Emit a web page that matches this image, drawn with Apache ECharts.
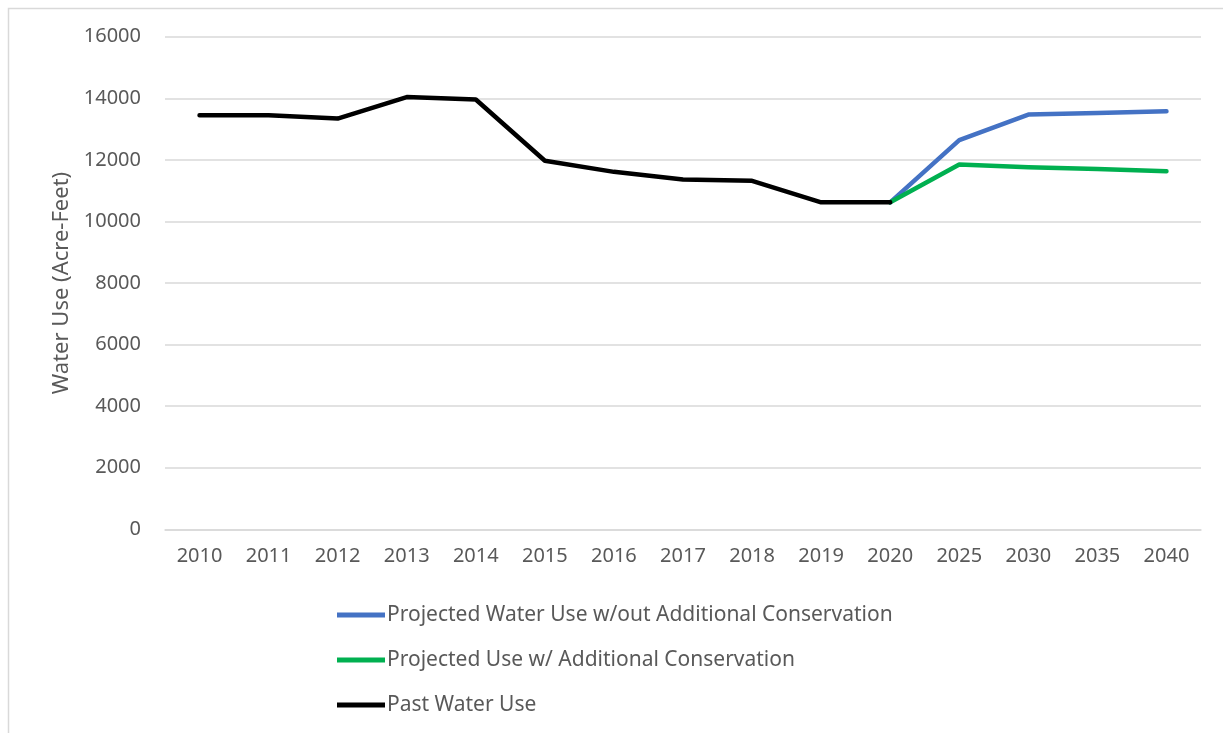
<!DOCTYPE html>
<html>
<head>
<meta charset="utf-8">
<script src="https://cdn.jsdelivr.net/npm/echarts@6/dist/echarts.min.js"></script>
<style>html,body{margin:0;padding:0;background:#fff;}#c{width:1223px;height:733px;}</style>
</head>
<body>
<div id="c"></div>
<script>
const categories = ['2010','2011','2012','2013','2014','2015','2016','2017','2018','2019','2020','2025','2030','2035','2040'];
const projectedNoConservation = [null,null,null,null,null,null,null,null,null,null,10620,12640,13470,13520,13580];
const projectedWithConservation = [null,null,null,null,null,null,null,null,null,null,10620,11850,11760,11700,11630];
const pastWaterUse = [13450,13450,13340,14040,13960,11970,11610,11360,11320,10620,10620,null,null,null,null];
const seriesNames = ['Projected Water Use w/out Additional Conservation','Projected Use w/ Additional Conservation','Past Water Use'];
const yAxisTitle = 'Water Use (Acre-Feet)';

const FONT = 'Noto Sans';
const chart = echarts.init(document.getElementById('c'), null, {renderer:'canvas'});
function lineSeries(name, data, color){
  return {name, type:'line', data, showSymbol:false, symbol:'none', connectNulls:false,
    lineStyle:{color, width:4.5, cap:'round', join:'round'}, itemStyle:{color}, animation:false};
}
chart.setOption({
  animation:false,
  backgroundColor:'#fff',
  graphic:[{type:'rect', shape:{x:8.5,y:8.5,width:1300,height:800}, style:{fill:'none', stroke:'#d9d9d9', lineWidth:1.5}, silent:true}],
  grid:{left:165, right:22, top:36.7, bottom:203.7, containLabel:false},
  xAxis:{type:'category', data:categories, boundaryGap:true,
    axisLine:{show:true, lineStyle:{color:'#d9d9d9', width:1.5}},
    axisTick:{show:false},
    axisLabel:{color:'#595959', fontFamily:FONT, fontSize:20, margin:17}},
  yAxis:{type:'value', min:0, max:16000, interval:2000,
    name:yAxisTitle, nameLocation:'middle', nameGap:91,
    nameTextStyle:{color:'#595959', fontFamily:FONT, fontSize:22},
    axisLine:{show:false}, axisTick:{show:false},
    splitLine:{lineStyle:{color:'#d9d9d9', width:1.5}},
    axisLabel:{color:'#595959', fontFamily:FONT, fontSize:20, margin:24, formatter:v=>String(v)}},
  legend:{orient:'vertical', left:332, top:596, itemGap:17, itemWidth:48, itemHeight:5, icon:'rect',
    data:seriesNames,
    textStyle:{color:'#595959', fontFamily:FONT, fontSize:21, lineHeight:28, padding:[0,0,0,-3]}},
  series:[
    lineSeries(seriesNames[0], projectedNoConservation, '#4472C4'),
    lineSeries(seriesNames[1], projectedWithConservation, '#00B050'),
    lineSeries(seriesNames[2], pastWaterUse, '#000000')
  ]
});
</script>
</body>
</html>
